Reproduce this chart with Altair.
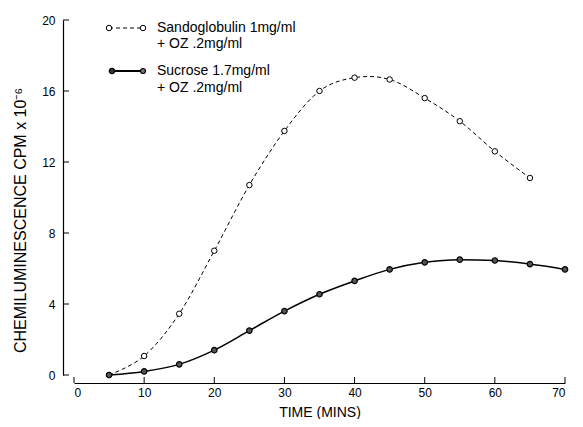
import altair as alt
import pandas as pd

# ---- data ----
time_sando = [5, 10, 15, 20, 25, 30, 35, 40, 45, 50, 55, 60, 65]
cpm_sando = [0.0, 1.07, 3.45, 7.0, 10.7, 13.75, 16.0, 16.75, 16.65, 15.6, 14.3, 12.6, 11.1]

time_sucrose = [5, 10, 15, 20, 25, 30, 35, 40, 45, 50, 55, 60, 65, 70]
cpm_sucrose = [0.0, 0.2, 0.6, 1.4, 2.5, 3.6, 4.55, 5.3, 5.95, 6.35, 6.5, 6.45, 6.25, 5.95]

x_ticks = [0, 10, 20, 30, 40, 50, 60, 70]
y_ticks = [0, 4, 8, 12, 16, 20]

legend_sando = ["Sandoglobulin 1mg/ml", "+ OZ .2mg/ml"]
legend_sucrose = ["Sucrose 1.7mg/ml", "+ OZ .2mg/ml"]

x_title = "TIME (MINS)"
y_title = "CHEMILUMINESCENCE CPM x 10\u207b\u2076"

FONT = "Liberation Sans"
W, H = 491, 355

sando = pd.DataFrame({"t": time_sando, "v": cpm_sando})
sucrose = pd.DataFrame({"t": time_sucrose, "v": cpm_sucrose})
xt = pd.DataFrame({"t": x_ticks})
yt = pd.DataFrame({"v": y_ticks})
one = pd.DataFrame({"k": [0]})

xscale = alt.Scale(domain=[0, 70], nice=False, zero=False)
yscale = alt.Scale(domain=[0, 20], nice=False, zero=False)

xaxis = alt.Axis(values=x_ticks, offset=8, ticks=False, grid=False, domainColor="black",
                 domainWidth=1.2, labelFont=FONT, labelFontSize=12, labelColor="black",
                 labelPadding=4, title=x_title, titleFont=FONT, titleFontSize=14,
                 titleFontWeight="normal", titleColor="black", titlePadding=7)
yaxis = alt.Axis(values=y_ticks, offset=11, ticks=False, grid=False, domainColor="black",
                 domainWidth=1.2, labelFont=FONT, labelFontSize=12, labelColor="black",
                 labelPadding=8, title=y_title, titleFont=FONT, titleFontSize=16,
                 titleFontWeight="normal", titleColor="black", titleAngle=270,
                 titleX=-43, titleY=200, titleAlign="center", titleBaseline="middle")

base_x = alt.X("t:Q", scale=xscale, axis=xaxis)
base_y = alt.Y("v:Q", scale=yscale, axis=yaxis)

sando_line = alt.Chart(sando).mark_line(
    color="black", strokeWidth=1, strokeDash=[4, 3], interpolate="cardinal"
).encode(x=base_x, y=base_y)
sando_pts = alt.Chart(sando).mark_point(
    shape="circle", size=30, filled=True, fill="white", stroke="black", strokeWidth=1, opacity=1
).encode(x="t:Q", y="v:Q")

suc_line = alt.Chart(sucrose).mark_line(
    color="black", strokeWidth=1.5, interpolate="monotone"
).encode(x="t:Q", y="v:Q")
suc_pts = alt.Chart(sucrose).mark_point(
    shape="circle", size=30, filled=True, fill="#555555", stroke="black", strokeWidth=1.2, opacity=1
).encode(x="t:Q", y="v:Q")

# inward tick marks
x_tick_marks = alt.Chart(xt).mark_rule(color="black", strokeWidth=1).encode(
    x="t:Q", y=alt.value(H + 8), y2=alt.value(H + 2))
y_tick_marks = alt.Chart(yt).mark_rule(color="black", strokeWidth=1).encode(
    y="v:Q", x=alt.value(-11), x2=alt.value(-5))

# legend
leg_sando_line = alt.Chart(one).mark_rule(color="black", strokeWidth=1, strokeDash=[4, 3]).encode(
    x=alt.value(35), x2=alt.value(69), y=alt.value(8))
leg_sando_pt1 = alt.Chart(one).mark_point(shape="circle", size=30, filled=True, fill="white",
                                          stroke="black", strokeWidth=1, opacity=1).encode(
    x=alt.value(35), y=alt.value(8))
leg_sando_pt2 = alt.Chart(one).mark_point(shape="circle", size=30, filled=True, fill="white",
                                          stroke="black", strokeWidth=1, opacity=1).encode(
    x=alt.value(69), y=alt.value(8))
leg_sando_t1 = alt.Chart(one).mark_text(text=legend_sando[0], align="left", baseline="middle",
                                        font=FONT, fontSize=14, color="black").encode(
    x=alt.value(83), y=alt.value(8))
leg_sando_t2 = alt.Chart(one).mark_text(text=legend_sando[1], align="left", baseline="middle",
                                        font=FONT, fontSize=14, color="black").encode(
    x=alt.value(83), y=alt.value(24))

leg_suc_line = alt.Chart(one).mark_rule(color="black", strokeWidth=2).encode(
    x=alt.value(38), x2=alt.value(69), y=alt.value(51))
leg_suc_pt1 = alt.Chart(one).mark_point(shape="circle", size=30, filled=True, fill="#333333",
                                        stroke="black", strokeWidth=1.2, opacity=1).encode(
    x=alt.value(38), y=alt.value(51))
leg_suc_pt2 = alt.Chart(one).mark_point(shape="circle", size=25, filled=True, fill="#777777",
                                        stroke="black", strokeWidth=1.2, opacity=1).encode(
    x=alt.value(69), y=alt.value(51))
leg_suc_t1 = alt.Chart(one).mark_text(text=legend_sucrose[0], align="left", baseline="middle",
                                      font=FONT, fontSize=14, color="black").encode(
    x=alt.value(83), y=alt.value(51))
leg_suc_t2 = alt.Chart(one).mark_text(text=legend_sucrose[1], align="left", baseline="middle",
                                      font=FONT, fontSize=14, color="black").encode(
    x=alt.value(83), y=alt.value(68))

chart = alt.layer(
    sando_line, suc_line, sando_pts, suc_pts, x_tick_marks, y_tick_marks,
    leg_sando_line, leg_sando_pt1, leg_sando_pt2, leg_sando_t1, leg_sando_t2,
    leg_suc_line, leg_suc_pt1, leg_suc_pt2, leg_suc_t1, leg_suc_t2,
).properties(
    width=W, height=H,
    autosize=alt.AutoSizeParams(type="none"),
    padding={"left": 66, "top": 12, "right": 10, "bottom": 44},
    background="white",
).configure_view(stroke=None)

chart.save("out.html", embed_options={"renderer": "svg", "actions": False})
